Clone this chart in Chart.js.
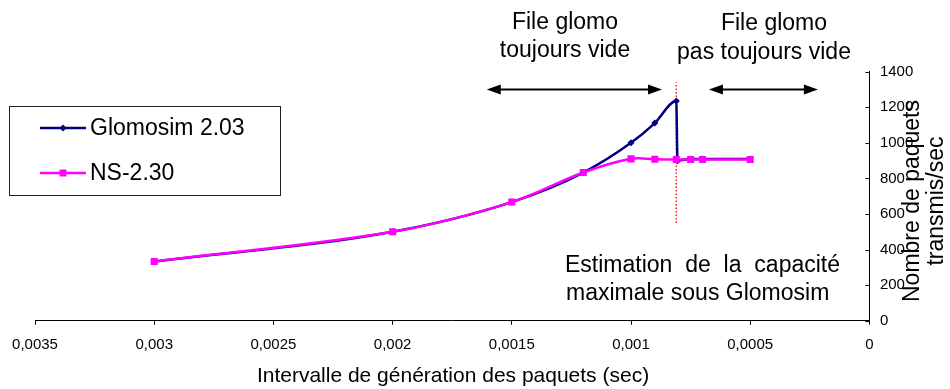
<!DOCTYPE html>
<html>
<head>
<meta charset="utf-8">
<script src="https://cdn.jsdelivr.net/npm/chart.js@4/dist/chart.umd.min.js"></script>
<style>
  html, body { margin: 0; padding: 0; background: #fff; }
  canvas { display: block; }
</style>
</head>
<body>
<canvas id="c" width="950" height="389"></canvas>
<script>
// Packet generation interval (s) and transmitted packets per second
const intervalsNs    = [0.003, 0.002, 0.0015, 0.0012, 0.001, 0.0009, 0.00081, 0.00075, 0.0007, 0.0005];
const nsRates        = [333, 500, 667, 833, 910, 908, 906, 906, 906, 906];
const intervalsGlomo = [0.003, 0.002, 0.0015, 0.0012, 0.001, 0.0009, 0.00081, 0.000805, 0.00075, 0.0007, 0.0005];
const glomoRates     = [333, 500, 667, 833, 1000, 1111, 1235, 900, 909, 909, 909];

// Capacity estimate marker (vertical dotted line)
const capacityInterval = [0.00081, 0.00081];
const capacityRates    = [550, 1340];

// Axis ticks
const xTickValues = [0, 0.0005, 0.001, 0.0015, 0.002, 0.0025, 0.003, 0.0035];
const xTickLabels = ['0', '0,0005', '0,001', '0,0015', '0,002', '0,0025', '0,003', '0,0035'];
const yTickLabels = ['0', '200', '400', '600', '800', '1000', '1200', '1400'];

const seriesNames = ['Glomosim 2.03', 'NS-2.30'];
const FONT = '"Liberation Sans", Arial, Helvetica, sans-serif';
const NAVY = '#000080';
const MAGENTA = '#ff00ff';

const toPoints = (xs, ys) => xs.map((v, i) => ({ x: v, y: ys[i] }));

const decor = {
  id: 'decor',
  afterDraw(chart) {
    const { ctx, scales: { x, y } } = chart;
    ctx.save();

    // inward tick marks on the right-hand value axis
    ctx.strokeStyle = '#000';
    ctx.lineWidth = 1;
    y.ticks.forEach(t => {
      const py = Math.round(y.getPixelForValue(t.value)) + 0.5;
      ctx.beginPath();
      ctx.moveTo(y.left - 4, py);
      ctx.lineTo(y.left, py);
      ctx.stroke();
    });

    // double-headed arrows marking the two queue regimes
    const arrow = (xa, xb, yv) => {
      const x1 = x.getPixelForValue(xa), x2 = x.getPixelForValue(xb);
      const py = y.getPixelForValue(yv);
      const hl = 14, hw = 5;
      ctx.strokeStyle = '#000';
      ctx.fillStyle = '#000';
      ctx.lineWidth = 2.2;
      ctx.beginPath();
      ctx.moveTo(x1 + hl - 2, py);
      ctx.lineTo(x2 - hl + 2, py);
      ctx.stroke();
      ctx.beginPath();
      ctx.moveTo(x1, py); ctx.lineTo(x1 + hl, py - hw); ctx.lineTo(x1 + hl, py + hw); ctx.closePath();
      ctx.fill();
      ctx.beginPath();
      ctx.moveTo(x2, py); ctx.lineTo(x2 - hl, py - hw); ctx.lineTo(x2 - hl, py + hw); ctx.closePath();
      ctx.fill();
    };
    arrow(0.001605, 0.00087, 1300);
    arrow(0.000673, 0.000216, 1300);

    // annotation texts
    ctx.fillStyle = '#000';
    ctx.font = '23px ' + FONT;
    ctx.textBaseline = 'alphabetic';
    ctx.textAlign = 'center';
    ctx.fillText('File glomo', 565, 28.5);
    ctx.fillText('toujours vide', 565, 57);
    ctx.fillText('File glomo', 774, 30);
    ctx.fillText('pas toujours vide', 764, 59);

    // justified first line of the capacity note
    const justify = (words, left, right, base) => {
      const widths = words.map(w => ctx.measureText(w).width);
      const total = widths.reduce((a, b) => a + b, 0);
      const gap = (right - left - total) / (words.length - 1);
      let cx = left;
      ctx.textAlign = 'left';
      words.forEach((w, i) => { ctx.fillText(w, cx, base); cx += widths[i] + gap; });
    };
    justify(['Estimation', 'de', 'la', 'capacité'], 565, 840, 271.5);
    ctx.textAlign = 'left';
    ctx.fillText('maximale sous Glomosim', 566, 300);

    // axis titles
    ctx.font = '21px ' + FONT;
    ctx.textAlign = 'center';
    ctx.fillText('Intervalle de génération des paquets (sec)', 453, 382);

    ctx.save();
    ctx.font = '23px ' + FONT;
    ctx.translate(913, 201);
    ctx.rotate(-Math.PI / 2);
    ctx.textBaseline = 'middle';
    ctx.fillText('Nombre de paquets', 0, 0);
    ctx.restore();
    ctx.save();
    ctx.font = '23px ' + FONT;
    ctx.translate(937, 201);
    ctx.rotate(-Math.PI / 2);
    ctx.textBaseline = 'middle';
    ctx.fillText('transmis/sec', 0, 0);
    ctx.restore();

    // legend box
    ctx.fillStyle = '#fff';
    ctx.fillRect(9.5, 106.5, 271, 89);
    ctx.strokeStyle = '#222';
    ctx.lineWidth = 1;
    ctx.strokeRect(9.5, 106.5, 271, 89);

    const rows = [
      { name: seriesNames[0], color: NAVY, y: 128, marker: 'diamond' },
      { name: seriesNames[1], color: MAGENTA, y: 173, marker: 'square' }
    ];
    rows.forEach(r => {
      ctx.strokeStyle = r.color;
      ctx.fillStyle = r.color;
      ctx.lineWidth = 2.5;
      ctx.beginPath();
      ctx.moveTo(40, r.y);
      ctx.lineTo(86, r.y);
      ctx.stroke();
      ctx.beginPath();
      if (r.marker === 'diamond') {
        ctx.moveTo(63, r.y - 3.5); ctx.lineTo(66.5, r.y); ctx.lineTo(63, r.y + 3.5); ctx.lineTo(59.5, r.y);
        ctx.closePath();
      } else {
        ctx.rect(59.5, r.y - 3.5, 7, 7);
      }
      ctx.fill();
      ctx.fillStyle = '#000';
      ctx.font = '23px ' + FONT;
      ctx.textAlign = 'left';
      ctx.textBaseline = 'middle';
      ctx.fillText(r.name, 90, r.y + 1);
    });

    ctx.restore();
  }
};

new Chart(document.getElementById('c'), {
  type: 'line',
  data: {
    datasets: [
      {
        label: seriesNames[1],
        data: toPoints(intervalsNs, nsRates),
        borderColor: MAGENTA,
        backgroundColor: MAGENTA,
        borderWidth: 2.5,
        pointStyle: 'rect',
        pointRadius: 5,
        pointBorderWidth: 0,
        tension: 0.35,
        order: 0
      },
      {
        label: seriesNames[0],
        data: toPoints(intervalsGlomo, glomoRates),
        borderColor: NAVY,
        backgroundColor: NAVY,
        borderWidth: 2.5,
        pointStyle: 'rectRot',
        pointRadius: 3.5,
        pointBorderWidth: 0,
        cubicInterpolationMode: 'monotone',
        order: 1
      },
      {
        label: 'capacité',
        data: toPoints(capacityInterval, capacityRates),
        borderColor: '#ff2020',
        borderWidth: 1.5,
        borderDash: [1.5, 2],
        pointRadius: 0,
        tension: 0,
        order: 2
      }
    ]
  },
  options: {
    responsive: false,
    animation: false,
    devicePixelRatio: 1,
    layout: { padding: { left: 35, top: 71.7, right: 0, bottom: 0 } },
    plugins: { legend: { display: false }, tooltip: { enabled: false } },
    scales: {
      x: {
        type: 'linear',
        position: 'bottom',
        reverse: true,
        min: 0,
        max: 0.0035,
        afterBuildTicks: s => { s.ticks = xTickValues.map(v => ({ value: v })); },
        afterFit: s => { s.height = 68.3; },
        ticks: {
          autoSkip: false,
          maxRotation: 0,
          padding: 11,
          color: '#000',
          font: { family: FONT, size: 15 },
          callback: (v, i) => xTickLabels[i]
        },
        grid: { drawOnChartArea: false, drawTicks: true, tickLength: 4, color: '#000' },
        border: { display: true, color: '#000', width: 1 }
      },
      y: {
        type: 'linear',
        position: 'right',
        min: 0,
        max: 1400,
        afterBuildTicks: s => { s.ticks = yTickLabels.map(v => ({ value: Number(v) })); },
        afterFit: s => { s.width = 80.6; },
        ticks: {
          padding: 10.5,
          color: '#000',
          font: { family: FONT, size: 15 },
          callback: (v, i) => yTickLabels[i]
        },
        grid: { drawOnChartArea: false, drawTicks: false },
        border: { display: true, color: '#000', width: 1 }
      }
    }
  },
  plugins: [decor]
});
</script>
</body>
</html>
